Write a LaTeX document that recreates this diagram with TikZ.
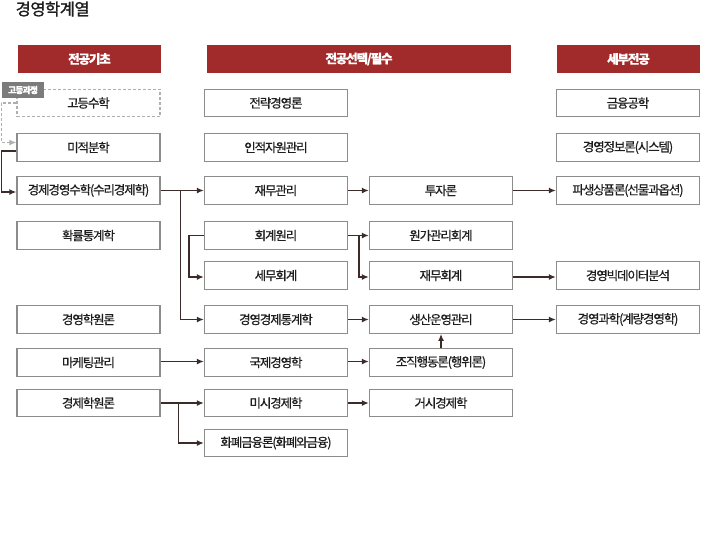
\documentclass[tikz,border=0pt]{standalone}
\usepackage{fontspec}
\setmainfont{Noto Sans CJK KR}
\newfontfamily\krtight[LetterSpace=-9,FakeBold=0.6]{Noto Sans CJK KR}
\newfontfamily\krtitle[LetterSpace=-3,FakeBold=1.4]{Noto Sans CJK KR}
\usetikzlibrary{arrows.meta}
\definecolor{MJRed}{HTML}{A12A2B}
\definecolor{MJLine}{HTML}{8C8C8C}
\definecolor{MJDash}{HTML}{AFAFAF}
\definecolor{MJArrow}{HTML}{3C2B2B}
\definecolor{MJTag}{HTML}{7B7B7B}
\definecolor{MJText}{HTML}{1E1E1E}

\begin{document}
\begin{tikzpicture}[x=1pt,y=-1pt,
  course/.style={draw=MJLine,line width=1.3pt,minimum width=143pt,minimum height=27.5pt,inner sep=0pt,text=MJText,font=\krtight\fontsize{12.5}{14}\selectfont},
  hschool/.style={course,draw=MJDash,dash pattern=on 3pt off 2pt},
  head/.style={fill=MJRed,minimum height=28pt,inner sep=0pt,text=white,font=\krtight\bfseries\fontsize{12.5}{14}\selectfont},
  tag/.style={fill=MJTag,minimum width=42pt,minimum height=16pt,inner sep=0pt,text=white,font=\krtight\bfseries\fontsize{8.8}{10}\selectfont},
  link/.style={draw=MJArrow,line width=1.6pt,-{Latex[length=7pt,width=6pt]}},
  dlink/.style={draw=MJDash,line width=1.4pt,dash pattern=on 3pt off 2pt,-{Latex[length=7pt,width=6pt]}}]
\path[use as bounding box] (0,0) rectangle (719,549);
\node[anchor=west,inner sep=0pt,text=MJText,font=\krtitle\fontsize{16.5}{18}\selectfont] (title) at (15.5,9) {경영학계열};
\node[head,minimum width=143pt] (h1) at (89.5,59) {전공기초};
\node[head,minimum width=304pt] (h2) at (359,59) {전공선택/필수};
\node[head,minimum width=143pt] (h3) at (628.5,59) {세부전공};
\node[hschool] (gosu) at (88.5,103) {고등수학};
\node[tag] (hstag) at (23,90) {고등과정};
\node[course] (mijeok) at (88.5,147.5) {미적분학};
\node[course] (gyeongsu) at (88.5,190.5) {경제경영수학(수리경제학)};
\node[course] (hwakryul) at (88.5,235.5) {확률통계학};
\node[course] (gyeongwon) at (88.5,319.5) {경영학원론};
\node[course] (maketing) at (88.5,362.5) {마케팅관리};
\node[course] (gyeongje) at (88.5,403) {경제학원론};
\node[course] (jeollyak) at (276,103) {전략경영론};
\node[course] (injeok) at (276,147.5) {인적자원관리};
\node[course] (jaemu) at (276,190.5) {재무관리};
\node[course] (hoegye) at (276,235.5) {회계원리};
\node[course] (semu) at (276,275.5) {세무회계};
\node[course] (tonggye) at (276,319.5) {경영경제통계학};
\node[course] (gukje) at (276,362.5) {국제경영학};
\node[course] (misi) at (276,403) {미시경제학};
\node[course] (hwapye) at (276,443) {화폐금융론(화폐와금융)};
\node[course] (tuja) at (441,190.5) {투자론};
\node[course] (wonga) at (441,235.5) {원가관리회계};
\node[course] (jaehoe) at (441,275.5) {재무회계};
\node[course] (saengsan) at (441,319.5) {생산운영관리};
\node[course] (jojik) at (441,362.5) {조직행동론(행위론)};
\node[course] (geosi) at (441,403) {거시경제학};
\node[course] (geumyung) at (628,103) {금융공학};
\node[course] (jeongbo) at (628,147.5) {경영정보론(시스템)};
\node[course] (pasaeng) at (628,190.5) {파생상품론(선물과옵션)};
\node[course] (bigdata) at (628,275.5) {경영빅데이터분석};
\node[course] (gwahak) at (628,319.5) {경영과학(계량경영학)};
\draw[dlink] (gosu.west) -- ++(-15,0) |- ([yshift=5pt]mijeok.west);
\draw[link] ([yshift=-3.5pt]mijeok.west) -- ++(-15,0) |- ([yshift=-1.5pt]gyeongsu.west);
\draw[link] (gyeongsu.east) -- (jaemu.west);
\draw[link] (gyeongsu.east) -- ++(20,0) |- (tonggye.west);
\draw[link] (hoegye.west) -- ++(-15,0) |- ([yshift=-1.5pt]semu.west);
\draw[link] (jaemu.east) -- (tuja.west);
\draw[link] (hoegye.east) -- (wonga.west);
\draw[link] (hoegye.east) -- ++(11,0) |- ([yshift=-1.5pt]jaehoe.west);
\draw[link] (tuja.east) -- (pasaeng.west);
\draw[link] ([yshift=-1.5pt]jaehoe.east) -- ([yshift=-1.5pt]bigdata.west);
\draw[link] (tonggye.east) -- (saengsan.west);
\draw[link] (saengsan.east) -- (gwahak.west);
\draw[link] (jojik.north) -- (saengsan.south);
\draw[link] ([yshift=1pt]maketing.east) -- ([yshift=1pt]gukje.west);
\draw[link] ([yshift=1pt]gukje.east) -- ([yshift=1pt]jojik.west);
\draw[link] (gyeongje.east) -- (misi.west);
\draw[link] (gyeongje.east) -- ++(18,0) |- (hwapye.west);
\draw[link] (misi.east) -- (geosi.west);
\end{tikzpicture}
\end{document}
